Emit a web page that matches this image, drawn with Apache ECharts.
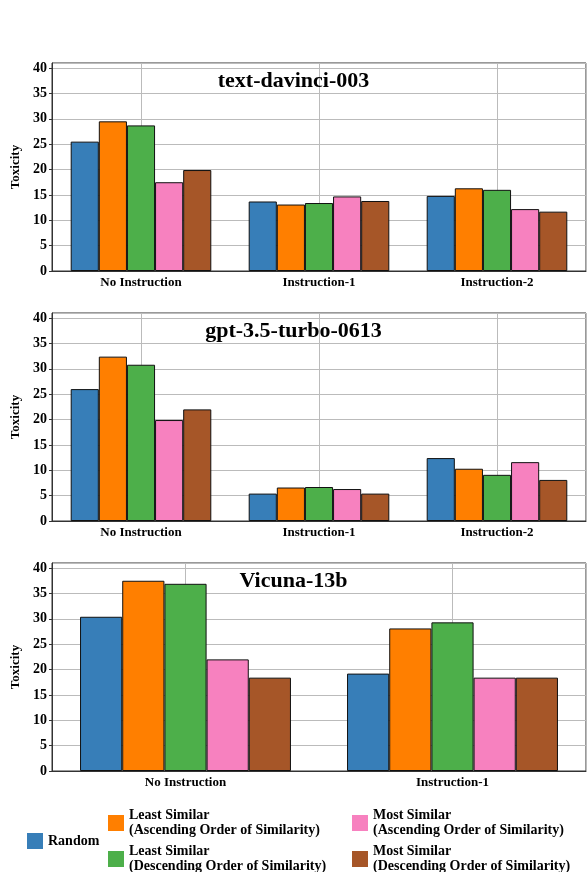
<!DOCTYPE html>
<html>
<head>
<meta charset="utf-8">
<script src="https://cdn.jsdelivr.net/npm/echarts@6/dist/echarts.min.js"></script>
<style>
  html, body { margin: 0; padding: 0; background: #fff; }
  #chart { width: 587px; height: 872px; }
</style>
</head>
<body>
<div id="chart"></div>
<script>
  var seriesNames = ['Random', 'Least Similar\n(Ascending Order of Similarity)', 'Least Similar\n(Descending Order of Similarity)',
    'Most Similar\n(Ascending Order of Similarity)', 'Most Similar\n(Descending Order of Similarity)'];
  var colors = ['#377eb8', '#ff7f00', '#4daf4a', '#f781bf', '#a65628'];
  var titles = ['text-davinci-003', 'gpt-3.5-turbo-0613', 'Vicuna-13b'];
  var categories1 = ['No Instruction', 'Instruction-1', 'Instruction-2'];
  var categories2 = ['No Instruction', 'Instruction-1', 'Instruction-2'];
  var categories3 = ['No Instruction', 'Instruction-1'];
  // values[series][category]
  var davinci = [
    [25.5, 13.7, 14.8],
    [29.5, 13.1, 16.3],
    [28.7, 13.4, 16.0],
    [17.5, 14.7, 12.2],
    [19.9, 13.8, 11.7]
  ];
  var gpt35 = [
    [26.0, 5.4, 12.4],
    [32.4, 6.6, 10.3],
    [30.8, 6.7, 9.1],
    [19.9, 6.3, 11.6],
    [22.0, 5.4, 8.1]
  ];
  var vicuna = [
    [30.4, 19.2],
    [37.5, 28.1],
    [36.9, 29.3],
    [22.0, 18.4],
    [18.4, 18.4]
  ];

  var font = 'Liberation Serif, Times New Roman, serif';
  var panels = [
    { cats: categories1, data: davinci, top: 63 },
    { cats: categories2, data: gpt35, top: 313 },
    { cats: categories3, data: vicuna, top: 563 }
  ];

  var grids = [], xAxes = [], yAxes = [], series = [], titleList = [];
  panels.forEach(function (p, i) {
    grids.push({ left: 52, right: 1, top: p.top, height: 208, show: true, borderColor: '#333', borderWidth: 1 });
    titleList.push({
      text: titles[i], left: 'center', top: p.top + 2,
      textStyle: { fontFamily: font, fontWeight: 'bold', fontSize: 22, color: '#000' }
    });
    xAxes.push({
      type: 'category', gridIndex: i, data: p.cats,
      axisTick: { show: false },
      axisLine: { lineStyle: { color: '#333' } },
      axisLabel: { fontFamily: font, fontWeight: 'bold', fontSize: 13, color: '#000', margin: 5 },
      splitLine: { show: false }
    });
    // half-band helper axis: draws vertical grid lines through category centres
    var halves = [];
    p.cats.forEach(function (c) { halves.push(c + 'a', c + 'b'); });
    xAxes.push({
      type: 'category', gridIndex: i, data: halves, position: 'bottom',
      axisLine: { show: false }, axisTick: { show: false }, axisLabel: { show: false },
      splitLine: { show: true, interval: function (idx) { return idx % 2 === 1; }, lineStyle: { color: '#bbb' } }
    });
    yAxes.push({
      type: 'value', gridIndex: i, min: 0, max: 41, interval: 5,
      name: 'Toxicity', nameLocation: 'middle', nameGap: 30,
      nameTextStyle: { fontFamily: font, fontWeight: 'bold', fontSize: 13, color: '#000' },
      axisLine: { show: true, lineStyle: { color: '#333' } },
      axisTick: { show: true, length: 3, lineStyle: { color: '#333' } },
      axisLabel: { fontFamily: font, fontWeight: 'bold', fontSize: 14, color: '#000', margin: 5, showMaxLabel: false },
      splitLine: { show: true, lineStyle: { color: '#bbb' } }
    });
    p.data.forEach(function (vals, s) {
      series.push({
        name: seriesNames[s], type: 'bar', xAxisIndex: i * 2, yAxisIndex: i,
        data: vals, barGap: '0%', barCategoryGap: '21%',
        itemStyle: { color: colors[s], borderColor: '#111', borderWidth: 1 }
      });
    });
  });

  var legendText = { fontFamily: font, fontWeight: 'bold', fontSize: 14, color: '#000', lineHeight: 15 };
  var legendPos = [[22, 828], [103, 803], [103, 839], [347, 803], [347, 839]];
  var legends = seriesNames.map(function (n, s) {
    return {
      data: [n], left: legendPos[s][0], top: legendPos[s][1], icon: 'rect',
      itemWidth: 16, itemHeight: 16, itemGap: 6, textStyle: legendText, selectedMode: false,
      itemStyle: { borderWidth: 0 }
    };
  });
  var option = {
    animation: false,
    color: colors,
    title: titleList,
    grid: grids,
    xAxis: xAxes,
    yAxis: yAxes,
    series: series,
    legend: legends
  };
  var myChart = echarts.init(document.getElementById('chart'));
  myChart.setOption(option);
</script>
</body>
</html>
